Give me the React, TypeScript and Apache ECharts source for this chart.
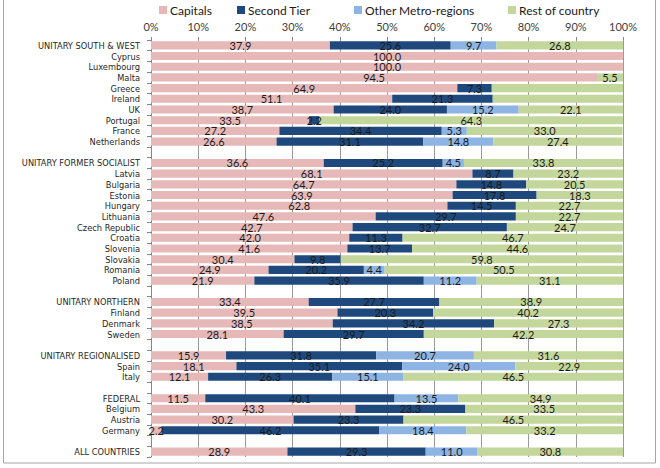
import React, { useEffect, useRef } from "react";
import * as echarts from "echarts";

const categories = [
  "UNITARY SOUTH & WEST", "Cyprus", "Luxembourg", "Malta", "Greece", "Ireland", "UK", "Portugal", "France", "Netherlands",
  " ",
  "UNITARY FORMER SOCIALIST", "Latvia", "Bulgaria", "Estonia", "Hungary", "Lithuania", "Czech Republic", "Croatia", "Slovenia", "Slovakia", "Romania", "Poland",
  "  ",
  "UNITARY NORTHERN", "Finland", "Denmark", "Sweden",
  "   ",
  "UNITARY REGIONALISED", "Spain", "Italy",
  "    ",
  "FEDERAL", "Belgium", "Austria", "Germany",
  "     ",
  "ALL COUNTRIES",
];

const capitals = [
  37.9, 100.0, 100.0, 94.5, 64.9, 51.1, 38.7, 33.5, 27.2, 26.6,
  null,
  36.6, 68.1, 64.7, 63.9, 62.8, 47.6, 42.7, 42.0, 41.6, 30.4, 24.9, 21.9,
  null,
  33.4, 39.5, 38.5, 28.1,
  null,
  15.9, 18.1, 12.1,
  null,
  11.5, 43.3, 30.2, 2.2,
  null,
  28.9,
];

const secondTier = [
  25.6, 0, 0, 0, 7.3, 21.3, 24.0, 2.2, 34.4, 31.1,
  null,
  25.2, 8.7, 14.8, 17.8, 14.5, 29.7, 32.7, 11.3, 13.7, 9.8, 20.2, 35.9,
  null,
  27.7, 20.3, 34.2, 29.7,
  null,
  31.8, 35.1, 26.3,
  null,
  40.1, 23.3, 23.3, 46.2,
  null,
  29.3,
];

const otherMetro = [
  9.7, 0, 0, 0, 0, 0, 15.2, 0, 5.3, 14.8,
  null,
  4.5, 0, 0, 0, 0, 0, 0, 0, 0, 0, 4.4, 11.2,
  null,
  0, 0, 0, 0,
  null,
  20.7, 24.0, 15.1,
  null,
  13.5, 0, 0, 18.4,
  null,
  11.0,
];

const restOfCountry = [
  26.8, 0, 0, 5.5, 27.8, 27.6, 22.1, 64.3, 33.0, 27.4,
  null,
  33.8, 23.2, 20.5, 18.3, 22.7, 22.7, 24.7, 46.7, 44.6, 59.8, 50.5, 31.1,
  null,
  38.9, 40.2, 27.3, 42.2,
  null,
  31.6, 22.9, 46.5,
  null,
  34.9, 33.5, 46.5, 33.2,
  null,
  30.8,
];

const unlabelledRest = ["Greece", "Ireland"];

const seriesNames = ["Capitals", "Second Tier", "Other Metro-regions", "Rest of country"];
const seriesColors = ["#E6B9B8", "#1F497D", "#8DB4E2", "#C3D69B"];
const tickLabels = ["0%", "10%", "20%", "30%", "40%", "50%", "60%", "70%", "80%", "90%", "100%"];
const legendLefts = [159, 237, 354, 508];

const FONT = "Lato";
const NARROW = "'Liberation Sans Narrow', 'Arial Narrow', 'DejaVu Sans Condensed', Lato";

export default function App() {
  const ref = useRef<HTMLDivElement>(null);
  useEffect(() => {
    if (!ref.current) return;
    const chart = echarts.init(ref.current, null, { renderer: "svg" });
    const allData = [capitals, secondTier, otherMetro, restOfCountry];
    const series = allData.map((arr, si) => ({
      name: seriesNames[si],
      type: "bar",
      stack: "total",
      barCategoryGap: "24%",
      itemStyle: { color: seriesColors[si] },
      label: {
        show: true,
        position: "inside",
        color: "#1a1a1a",
        fontFamily: FONT,
        fontSize: 11,
        formatter: (p: any) => (p.value == null || p.value === 0 ? "" : Number(p.value).toFixed(1)),
      },
      data: arr.map((v, i) =>
        si === 3 && unlabelledRest.includes(categories[i])
          ? { value: v, label: { show: false } }
          : v
      ),
    }));
    chart.setOption({
      animation: false,
      textStyle: { fontFamily: FONT },
      legend: seriesNames.map((n, i) => ({
        data: [n],
        left: legendLefts[i],
        top: 4,
        icon: "rect",
        itemWidth: 8,
        itemHeight: 8,
        itemGap: 4,
        padding: 0,
        selectedMode: false,
        textStyle: { fontFamily: FONT, fontSize: 12, color: "#1a1a1a", padding: [0, 0, 0, -2] },
      })),
      grid: { left: 151, right: 37, top: 40, bottom: 11, containLabel: false, outerBoundsMode: "none" },
      xAxis: {
        type: "value",
        position: "top",
        min: 0,
        max: 100,
        interval: 10,
        axisLine: { show: false },
        axisTick: { show: true, length: 3, lineStyle: { color: "#868686" } },
        splitLine: { show: true, lineStyle: { color: "#9a9a9a", width: 1 } },
        axisLabel: {
          formatter: (v: number) => tickLabels[Math.round(v / 10)],
          color: "#404040",
          fontFamily: FONT,
          fontSize: 11,
          margin: 8,
        },
      },
      yAxis: {
        type: "category",
        inverse: true,
        data: categories,
        axisLine: { show: true, lineStyle: { color: "#868686" } },
        axisTick: { show: true, length: 4, lineStyle: { color: "#868686" } },
        axisLabel: { color: "#262626", fontFamily: NARROW, fontSize: 9.2, margin: 11, interval: 0 },
      },
      graphic: [
        {
          type: "rect",
          shape: { x: 3.5, y: -5, width: 652, height: 468 },
          style: { fill: "none", stroke: "#a6a6a6", lineWidth: 1 },
          silent: true,
        },
      ],
      series,
    });
    return () => chart.dispose();
  }, []);
  return (
    <div
      ref={ref}
      style={{ position: "absolute", left: 0, top: 0, width: 660, height: 468, background: "#fff" }}
    />
  );
}
